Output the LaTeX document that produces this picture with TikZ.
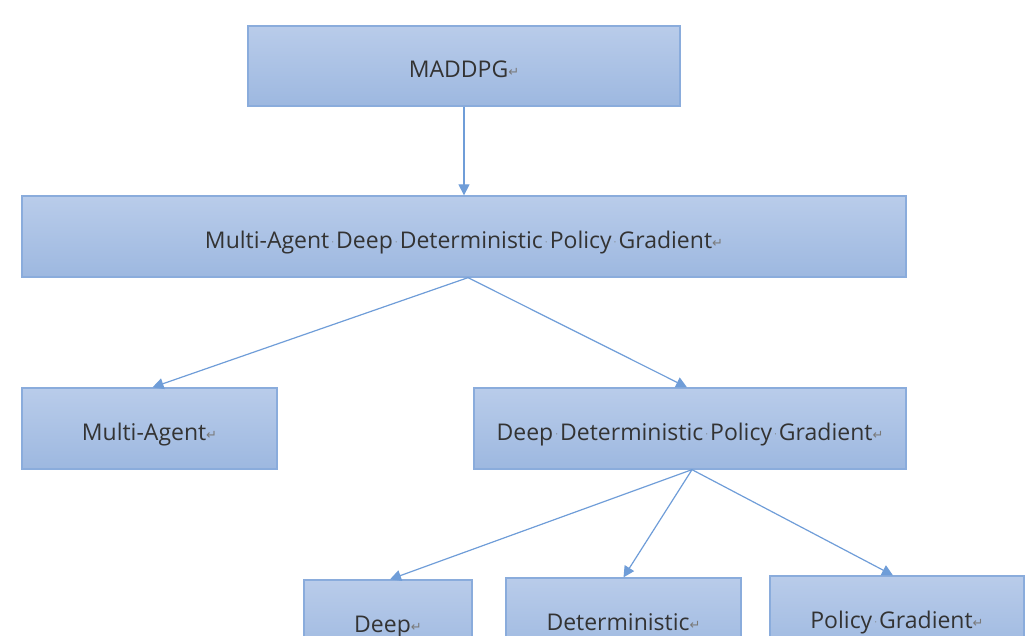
\documentclass[tikz,border=0pt]{standalone}
\usepackage{fontspec}
\setmainfont{Open Sans}
\newfontfamily\marksfont{DejaVu Sans}
\usepackage{tikz}
\usepackage{xcolor}
\usetikzlibrary{arrows.meta}

\definecolor{boxtop}{HTML}{B9CCEA}
\definecolor{boxbot}{HTML}{9DB8E0}
\definecolor{boxline}{HTML}{8AACDC}
\definecolor{arrowblue}{HTML}{6F9DD8}
\definecolor{markgray}{HTML}{7A7A7A}

\newcommand{\pmark}{{\marksfont\color{markgray}\fontsize{13}{13}\selectfont\raisebox{1pt}{↵}}}
\newcommand{\sdot}{\makebox[0.3em]{\color{markgray}\raisebox{3pt}{\fontsize{9}{9}\selectfont·}}}

\tikzset{
  blockbox/.style={draw=boxline, line width=1.3pt, top color=boxtop, bottom color=boxbot,
    text=black!80, font=\fontsize{23}{25}\selectfont, inner sep=0pt,
    text height=24pt, text depth=0pt, minimum height=81pt},
  link/.style={draw=arrowblue, line width=1.2pt, -{Triangle[length=11pt,width=11pt]}}
}

\begin{document}
\begin{tikzpicture}[x=1pt, y=-1pt]
\useasboundingbox (0,0) rectangle (1032,636);
\clip (0,0) rectangle (1032,636);

\node[blockbox, minimum width=432pt, minimum height=80pt] (maddpg) at (464,66) {MADDPG\pmark};
\node[blockbox, minimum width=884pt] (full) at (464,236.5) {Multi-Agent\sdot Deep\sdot Deterministic\sdot Policy\sdot Gradient\pmark};
\node[blockbox, minimum width=255pt] (agent) at (149.5,428.5) {Multi-Agent\pmark};
\node[blockbox, minimum width=432pt] (ddpg) at (690,428.5) {Deep\sdot Deterministic\sdot Policy\sdot Gradient\pmark};
\node[blockbox, minimum width=168pt, minimum height=80pt] (deep) at (388,620) {Deep\pmark};
\node[blockbox, minimum width=235pt, minimum height=80pt] (determ) at (623.5,618) {Deterministic\pmark};
\node[blockbox, minimum width=254pt, minimum height=80pt] (pg) at (897,616) {Policy\sdot Gradient\pmark};

\draw[link] (maddpg.south) -- (full.north);
\draw[link] ([xshift=4pt]full.south) -- ([xshift=3pt]agent.north);
\draw[link] ([xshift=4pt]full.south) -- ([xshift=-3pt]ddpg.north);
\draw[link] ([xshift=2pt]ddpg.south) -- ([xshift=2pt]deep.north);
\draw[link] ([xshift=2pt]ddpg.south) -- (determ.north);
\draw[link] ([xshift=2pt]ddpg.south) -- ([xshift=-4pt]pg.north);
\end{tikzpicture}
\end{document}
